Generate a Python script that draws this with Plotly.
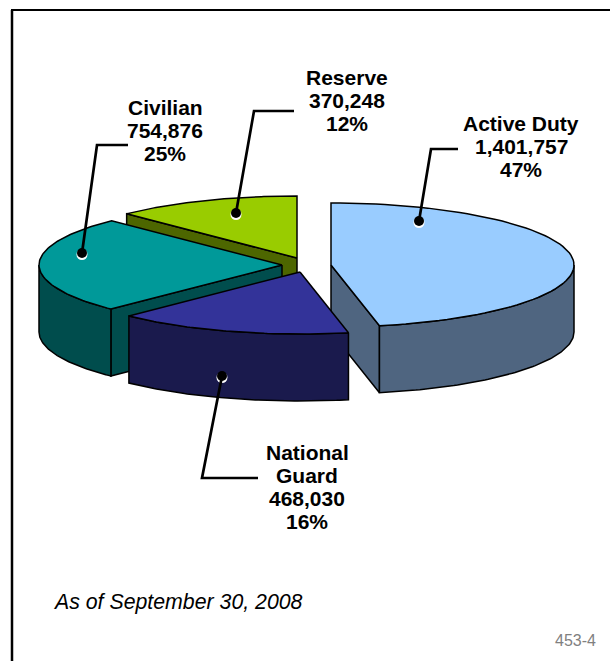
import numpy as np
import plotly.graph_objects as go

# ---- data ----
names = ["Active Duty", "National Guard", "Civilian", "Reserve"]
values = [1401757, 468030, 754876, 370248]
percents = ["47%", "16%", "25%", "12%"]
label_lines = [["Active Duty"], ["National", "Guard"], ["Civilian"], ["Reserve"]]

# ---- styling / layout ----
top_colors = ["#99CCFF", "#333399", "#009999", "#99CC00"]
wall_colors = ["#4F6580", "#1A1A4D", "#004D4D", "#4D6600"]
apexes = [(331, 265), (300, 272), (282, 265), (297, 258)]
RX, RY, DEPTH = 243, 62, 67
label_x = [521, 307, 165, 347]
label_top = [123, 452, 107, 77]
LINE_H = 23.3
leaders_x = [[458, 431, 419], [258, 202, 222], [128, 97, 82], [294, 254, 236]]
leaders_y = [[149, 149, 221], [478, 478, 376], [145, 145, 253], [111, 111, 213]]
EDGE = 1.5

fractions = np.array(values) / sum(values)
ends = np.cumsum(fractions) * 2 * np.pi
starts = ends - fractions * 2 * np.pi


def arc(cx, cy, a0, a1, drop=0):
    t = np.linspace(a0, a1, 80)
    return cx + RX * np.sin(t), cy - RY * np.cos(t) + drop


def poly(x, y, color, width=EDGE):
    return go.Scatter(x=list(x), y=list(y), mode="lines", fill="toself",
                      fillcolor=color, line=dict(color="black", width=width),
                      hoverinfo="skip", showlegend=False)


fig = go.Figure()

# back to front: Reserve, Civilian, Active Duty, National Guard
for i in [3, 2, 0, 1]:
    cx, cy = apexes[i]
    a0, a1 = starts[i], ends[i]
    wall = wall_colors[i]

    # radial cut walls
    for a in (a0, a1):
        if (a == a0 and i in (2, 3)) or (a == a1 and i == 0):
            ox, oy = cx + RX * np.sin(a), cy - RY * np.cos(a)
            fig.add_trace(poly([cx, ox, ox, cx, cx],
                               [cy, oy, oy + DEPTH, cy + DEPTH, cy], wall))

    # outer rim wall on the front half
    w0, w1 = max(a0, np.pi / 2), min(a1, 3 * np.pi / 2)
    if w1 > w0:
        xt, yt = arc(cx, cy, w0, w1)
        xb, yb = arc(cx, cy, w0, w1, DEPTH)
        fig.add_trace(poly(np.r_[xt, xb[::-1], xt[0]],
                           np.r_[yt, yb[::-1], yt[0]], wall))

    # top face
    xa, ya = arc(cx, cy, a0, a1)
    fig.add_trace(poly(np.r_[cx, xa, cx], np.r_[cy, ya, cy], top_colors[i]))

# leader lines with dots
for lx, ly in zip(leaders_x, leaders_y):
    fig.add_trace(go.Scatter(x=[lx[-1]], y=[ly[-1] + 1.5], mode="markers",
                             marker=dict(color="white", size=11),
                             hoverinfo="skip", showlegend=False))
    fig.add_trace(go.Scatter(x=lx, y=ly, mode="lines",
                             line=dict(color="black", width=2.7),
                             hoverinfo="skip", showlegend=False))
    fig.add_trace(go.Scatter(x=[lx[-1]], y=[ly[-1]], mode="markers",
                             marker=dict(color="black", size=10),
                             hoverinfo="skip", showlegend=False))

# labels, one annotation per text line to hold the tight line spacing
annotations = []
for i in range(len(names)):
    lines = label_lines[i] + [f"{values[i]:,}", percents[i]]
    for k, text in enumerate(lines):
        annotations.append(dict(
            x=label_x[i], y=label_top[i] + k * LINE_H, text=f"<b>{text}</b>",
            showarrow=False, xanchor="center", yanchor="middle",
            font=dict(family="Liberation Sans", size=21, color="black")))

annotations.append(dict(x=51, y=602, text="<i>As of September 30, 2008</i>",
                        showarrow=False, xanchor="left", yanchor="middle",
                        font=dict(family="Liberation Sans", size=21.3, color="black")))
annotations.append(dict(x=598, y=640, text="453-4", showarrow=False,
                        xanchor="right", yanchor="middle",
                        font=dict(family="Liberation Sans", size=16, color="#808080")))

fig.update_layout(
    width=610, height=661, margin=dict(l=0, r=0, t=0, b=0),
    paper_bgcolor="white", plot_bgcolor="white",
    xaxis=dict(range=[0, 610], visible=False, fixedrange=True),
    yaxis=dict(range=[661, 0], visible=False, fixedrange=True),
    annotations=annotations,
    shapes=[dict(type="line", x0=12, y0=10, x1=12, y1=661,
                 line=dict(color="black", width=2.5), layer="below"),
            dict(type="line", x0=11, y0=10, x1=610, y1=10,
                 line=dict(color="black", width=2), layer="below")],
)

fig.write_html("out.html", post_script="document.body.style.margin='0';",
               config={"displayModeBar": False})
